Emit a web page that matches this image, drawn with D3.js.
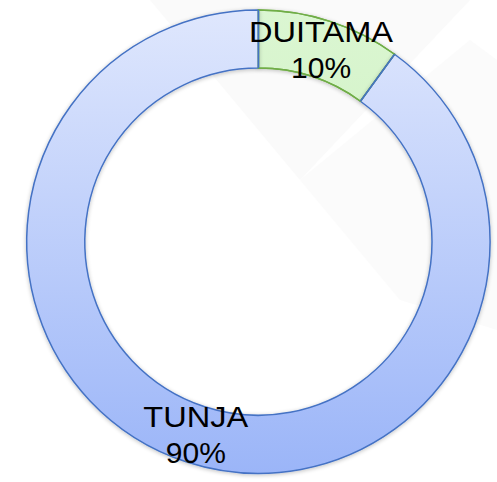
<!DOCTYPE html>
<html><head><meta charset="utf-8">
<script src="https://cdn.jsdelivr.net/npm/d3@7"></script>
<style>html,body{margin:0;padding:0;background:#fff}svg{display:block}</style>
</head><body>
<svg id="c" width="497" height="482"></svg>
<script>
const categories = ["DUITAMA", "TUNJA"];
const values = [10, 90];
const pctLabels = ["10%", "90%"];

const W = 497, H = 482, cx = 258.4, cy = 241.7, rOuter = 231.7, rInner = 173.6;
const svg = d3.select("#c");
const defs = svg.append("defs");

const gradSpec = {
  DUITAMA: {id: "gG", top: "#dbf6d2", bot: "#c4eeb4", stroke: "#70ad47"},
  TUNJA: {id: "gB", top: "#dfe7fd", bot: "#9bb5f8", stroke: "#4472c4"}
};
Object.values(gradSpec).forEach(s => {
  const g = defs.append("linearGradient").attr("id", s.id)
    .attr("gradientUnits", "userSpaceOnUse")
    .attr("x1", 0).attr("y1", -rOuter).attr("x2", 0).attr("y2", rOuter);
  g.append("stop").attr("offset", "0%").attr("stop-color", s.top);
  g.append("stop").attr("offset", "100%").attr("stop-color", s.bot);
});
const f = defs.append("filter").attr("id", "sh").attr("x", "-10%").attr("y", "-10%").attr("width", "120%").attr("height", "120%");
f.append("feGaussianBlur").attr("in", "SourceAlpha").attr("stdDeviation", 2).attr("result", "b");
f.append("feOffset").attr("in", "b").attr("dx", 0).attr("dy", 1).attr("result", "o");
f.append("feComponentTransfer").attr("in", "o").attr("result", "o2")
  .append("feFuncA").attr("type", "linear").attr("slope", 0.25);
const m = f.append("feMerge");
m.append("feMergeNode").attr("in", "o2");
m.append("feMergeNode").attr("in", "SourceGraphic");

// faint background watermark shapes
svg.append("path").attr("d", "M150,0 L470,0 L300,180 Z").attr("fill", "#fafafa");
svg.append("path").attr("d", "M300,180 L470,40 L497,60 L497,330 L400,300 Z").attr("fill", "#fbfbfb");

const data = categories.map((c, i) => ({cat: c, value: values[i], pct: pctLabels[i]}));
const pie = d3.pie().value(d => d.value).sort(null);
const arc = d3.arc().innerRadius(rInner).outerRadius(rOuter);

const g = svg.append("g").attr("transform", `translate(${cx},${cy})`);
const arcs = pie(data);
g.selectAll("path.s").data(arcs).join("path").attr("class", "s")
  .attr("d", arc)
  .attr("fill", d => `url(#${gradSpec[d.data.cat].id})`)
  .attr("stroke", d => gradSpec[d.data.cat].stroke)
  .attr("stroke-width", 1.5)
  .attr("filter", "url(#sh)");
g.selectAll("path.t").data(arcs.filter(d => d.data.cat === "DUITAMA")).join("path").attr("class", "t")
  .attr("d", arc).attr("fill", "none")
  .attr("stroke", d => gradSpec[d.data.cat].stroke).attr("stroke-width", 1.5);
g.selectAll("path.b").data(arcs.filter(d => d.data.cat === "TUNJA")).join("path").attr("class", "b")
  .attr("d", d => {
    const a0 = d.startAngle, a1 = d.endAngle;
    const p = (a, r) => [r * Math.sin(a), -r * Math.cos(a)];
    return `M${p(a0, rInner)}L${p(a0, rOuter)}M${p(a1, rInner)}L${p(a1, rOuter)}`;
  })
  .attr("stroke", "#4472c4").attr("stroke-width", 1.5).attr("fill", "none");

const lg = g.selectAll("g.l").data(arcs).join("g").attr("class", "l")
  .attr("transform", d => `translate(${arc.centroid(d)})`)
  .attr("font-family", "Liberation Sans, Arial, sans-serif")
  .attr("font-size", 30)
  .attr("fill", "#000")
  .attr("text-anchor", "middle");
lg.append("text").attr("transform", "translate(0,-7) scale(1.085,1)").text(d => d.data.cat);
lg.append("text").attr("transform", "translate(0,29)").text(d => d.data.pct);
</script>
</body></html>
